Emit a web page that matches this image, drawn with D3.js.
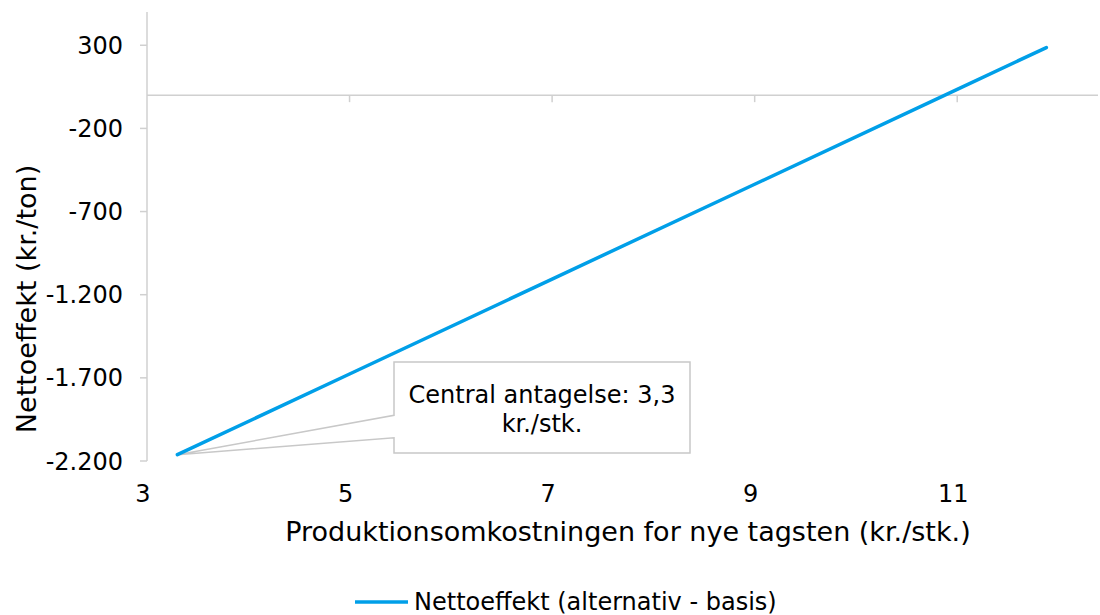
<!DOCTYPE html>
<html>
<head>
<meta charset="utf-8">
<script src="https://cdn.jsdelivr.net/npm/d3@7"></script>
<style>
  body { margin: 0; background: #fff; }
  text { font-family: "DejaVu Sans", Verdana, sans-serif; fill: #000; }
</style>
</head>
<body>
<script>
//data
var costValues = [3.3, 5, 7, 9, 11, 11.88];           //kr./stk.
var netValues = [-2162, -1677, -1106, -536, 35, 286];  //kr./ton
var xTicks = [3, 5, 7, 9, 11];
var yTicks = [300, -200, -700, -1200, -1700, -2200];
var seriesName = "Nettoeffekt (alternativ - basis)";
var noteLines = ["Central antagelse: 3,3", "kr./stk."];

var width = 1100, height = 615;
var plotLeft = 147, plotRight = 1098, plotTop = 12, plotBottom = 461;
var fontSize = 24, titleSize = 27;

//danish number format, plain hyphen for minus
var daFormat = d3.formatLocale({
    decimal: ",", thousands: ".", grouping: [3],
    currency: ["", " kr."], minus: "-"
}).format(",d");

var svg = d3.select("body").append("svg")
    .attr("width", width)
    .attr("height", height);

var x = d3.scaleLinear().domain([3, 12.39]).range([plotLeft, plotRight]);
var y = d3.scaleLinear().domain([-2200, 500]).range([plotBottom, plotTop]);

var axisColor = "#d0d0d0";

//y axis on the left
svg.append("line")
    .attr("x1", plotLeft).attr("x2", plotLeft)
    .attr("y1", plotTop).attr("y2", plotBottom)
    .attr("stroke", axisColor).attr("stroke-width", 1.5);

svg.selectAll(".ytick").data(yTicks).enter().append("line")
    .attr("x1", plotLeft - 7).attr("x2", plotLeft)
    .attr("y1", function(d){ return y(d); })
    .attr("y2", function(d){ return y(d); })
    .attr("stroke", axisColor).attr("stroke-width", 1.5);

svg.selectAll(".ylab").data(yTicks).enter().append("text")
    .attr("x", plotLeft - 24)
    .attr("y", function(d){ return y(d); })
    .attr("dy", "0.36em")
    .attr("text-anchor", "end")
    .style("font-size", fontSize + "px")
    .text(function(d){ return daFormat(d); });

//x axis crosses at zero
svg.append("line")
    .attr("x1", plotLeft).attr("x2", plotRight)
    .attr("y1", y(0)).attr("y2", y(0))
    .attr("stroke", axisColor).attr("stroke-width", 1.5);

svg.selectAll(".xtick").data(xTicks.slice(1)).enter().append("line")
    .attr("x1", function(d){ return x(d); })
    .attr("x2", function(d){ return x(d); })
    .attr("y1", y(0)).attr("y2", y(0) + 7)
    .attr("stroke", axisColor).attr("stroke-width", 1.5);

//x labels sit below the plot
svg.selectAll(".xlab").data(xTicks).enter().append("text")
    .attr("x", function(d){ return x(d) - 4; })
    .attr("y", 502)
    .attr("text-anchor", "middle")
    .style("font-size", fontSize + "px")
    .text(function(d){ return d; });

//axis titles
svg.append("text")
    .attr("x", 628).attr("y", 541)
    .attr("text-anchor", "middle")
    .style("font-size", titleSize + "px")
    .text("Produktionsomkostningen for nye tagsten (kr./stk.)");

svg.append("text")
    .attr("transform", "translate(36,299) rotate(-90)")
    .attr("text-anchor", "middle")
    .style("font-size", titleSize + "px")
    .text("Nettoeffekt (kr./ton)");

//callout for the central assumption
var px = x(costValues[0]), py = y(netValues[0]);
var box = { x0: 394, y0: 362, x1: 690, y1: 453 };
svg.append("path")
    .attr("d", "M" + box.x0 + "," + box.y0 +
        "H" + box.x1 + "V" + box.y1 + "H" + box.x0 +
        "V437.7L" + px + "," + py + "L" + box.x0 + ",415.3Z")
    .attr("fill", "#fff")
    .attr("stroke", "#c8c8c8")
    .attr("stroke-width", 1.5);

svg.selectAll(".note").data(noteLines).enter().append("text")
    .attr("x", (box.x0 + box.x1) / 2)
    .attr("y", function(d, i){ return 403 + i * 29; })
    .attr("text-anchor", "middle")
    .style("font-size", fontSize + "px")
    .text(function(d){ return d; });

//the series
var line = d3.line()
    .x(function(d){ return x(d[0]); })
    .y(function(d){ return y(d[1]); });

svg.append("path")
    .datum(d3.zip(costValues, netValues))
    .attr("d", line)
    .attr("fill", "none")
    .attr("stroke", "#009FE8")
    .attr("stroke-width", 3.5)
    .attr("stroke-linecap", "round");

//legend
svg.append("line")
    .attr("x1", 355).attr("x2", 408)
    .attr("y1", 602).attr("y2", 602)
    .attr("stroke", "#009FE8").attr("stroke-width", 3.5);

svg.append("text")
    .attr("x", 414).attr("y", 610)
    .style("font-size", fontSize + "px")
    .text(seriesName);
</script>
</body>
</html>
